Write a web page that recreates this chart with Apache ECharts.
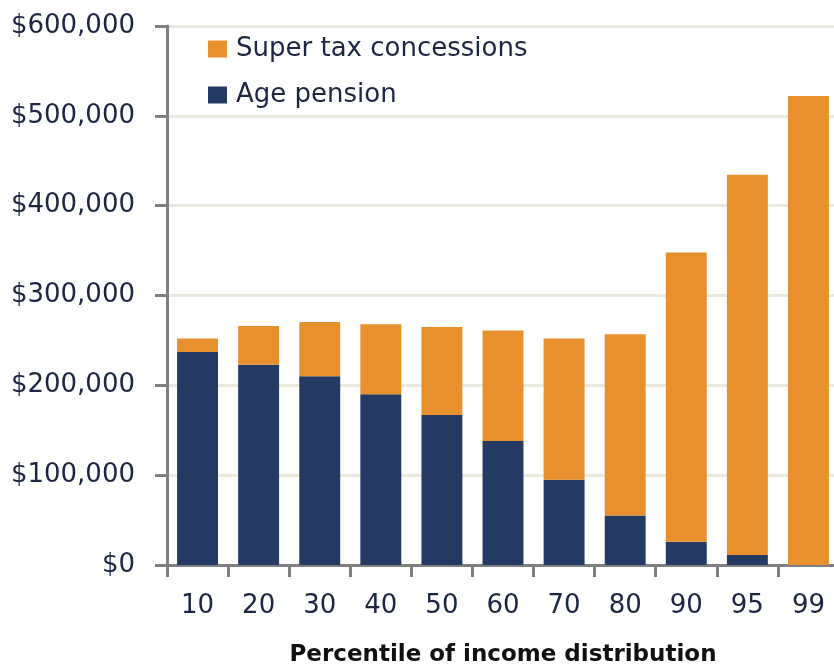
<!DOCTYPE html>
<html>
<head>
<meta charset="utf-8">
<script src="https://cdn.jsdelivr.net/npm/echarts@6/dist/echarts.min.js"></script>
<style>
html,body{margin:0;padding:0;background:#fff;}
#chart{width:834px;height:667px;}
</style>
</head>
<body>
<div id="chart"></div>
<script>
const categories = ['10','20','30','40','50','60','70','80','90','95','99'];
const agePension = [237000, 223000, 210000, 190000, 167000, 138000, 95000, 55000, 26000, 11000, 0];
const superTax = [15000, 43000, 60500, 78000, 98000, 123000, 157000, 202000, 322000, 423500, 522000];
const seriesNames = ['Super tax concessions', 'Age pension'];
const yTicks = [0, 100000, 200000, 300000, 400000, 500000, 600000];

const FONT = 'DejaVu Sans';
const TEXT = '#1c2541';
const chart = echarts.init(document.getElementById('chart'), null, {renderer:'canvas'});
chart.setOption({
  animation: false,
  backgroundColor: '#ffffff',
  grid: {left: 167, right: -5, top: 26, bottom: 102, containLabel: false, outerBoundsMode: 'none'},
  legend: {
    orient: 'vertical', left: 208, top: 34, padding: 0,
    icon: 'rect',
    itemWidth: 19, itemHeight: 17, itemGap: 16,
    data: [seriesNames[0], seriesNames[1]],
    textStyle: {fontFamily: FONT, fontSize: 26, color: TEXT, lineHeight: 30, padding: [0,0,0,4]},
    selectedMode: false
  },
  xAxis: {
    type: 'category', data: categories,
    name: 'Percentile of income distribution',
    nameLocation: 'middle', nameGap: 79,
    nameTextStyle: {fontFamily: FONT, fontSize: 23, fontWeight: 'bold', color: '#111'},
    axisLine: {lineStyle: {color: '#808080', width: 3}},
    axisTick: {show: true, length: 12, lineStyle: {color: '#808080', width: 3}, alignWithLabel: false},
    axisLabel: {fontFamily: FONT, fontSize: 26, color: TEXT, margin: 28},
    splitLine: {show: false}
  },
  yAxis: {
    type: 'value', min: yTicks[0], max: yTicks[yTicks.length-1], interval: 100000,
    axisLine: {show: true, lineStyle: {color: '#808080', width: 3}},
    axisTick: {show: true, length: 12, lineStyle: {color: '#808080', width: 3}},
    axisLabel: {fontFamily: FONT, fontSize: 26, color: TEXT, margin: 32,
      formatter: v => '$' + v.toLocaleString('en-US')},
    splitLine: {show: true, lineStyle: {color: '#ebe9de', width: 3}}
  },
  series: [
    {name: seriesNames[1], type: 'bar', stack: 'total', data: agePension,
      barCategoryGap: '33%', itemStyle: {color: '#243a63'}},
    {name: seriesNames[0], type: 'bar', stack: 'total', data: superTax,
      barCategoryGap: '33%', itemStyle: {color: '#e8902e'}}
  ]
});
</script>
</body>
</html>
